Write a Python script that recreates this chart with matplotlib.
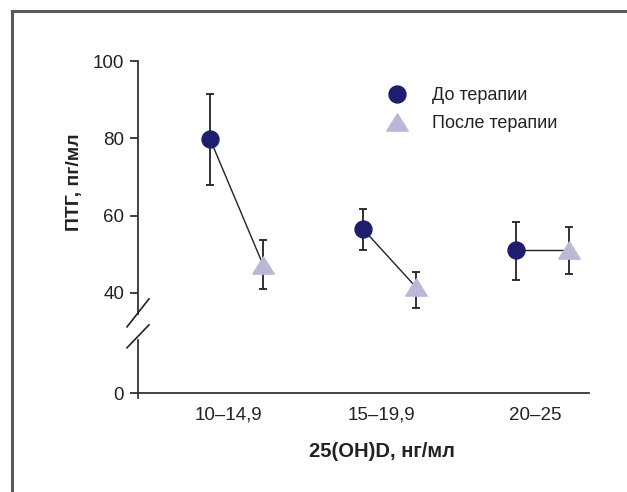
import matplotlib
matplotlib.use("Agg")
import matplotlib.pyplot as plt
from matplotlib.lines import Line2D
import numpy as np

categories = ["10–14,9", "15–19,9", "20–25"]
before_mean = [79.8, 56.5, 51.0]
before_upper = [91.4, 61.6, 58.4]
before_lower = [67.9, 51.1, 43.4]
after_mean = [47.3, 41.5, 51.0]
after_upper = [53.7, 45.5, 57.0]
after_lower = [41.1, 36.2, 44.9]
y_ticks = [0, 40, 60, 80, 100]
legend_labels = ["До терапии", "После терапии"]

NAVY = "#1f1d6e"
LAV = "#b9b8d6"
NARROW = ["Liberation Sans Narrow", "Liberation Sans", "DejaVu Sans"]
BOLD = ["Liberation Sans", "DejaVu Sans"]

# broken-axis scale: linear above BREAK, compressed below
BREAK = 27.0
K = 12.9 / 27.0

def fwd(v):
    v = np.asarray(v, dtype=float)
    return np.where(v >= BREAK, v, BREAK - (BREAK - v) * K)

def inv(u):
    u = np.asarray(u, dtype=float)
    return np.where(u >= BREAK, u, BREAK - (BREAK - u) / K)

fig = plt.figure(figsize=(6.27, 4.92), dpi=100)
# outer frame (top and left visible)
fig.add_artist(Line2D([12/627, 12/627], [0, 1 - 11/492], transform=fig.transFigure,
                      color="#5a5a5a", lw=2.2))
fig.add_artist(Line2D([12/627, 1], [1 - 11/492, 1 - 11/492], transform=fig.transFigure,
                      color="#5a5a5a", lw=2.2))

ax = fig.add_axes([138/627, 1 - 393/492, (589 - 138)/627, (393 - 61)/492])
ax.set_yscale("function", functions=(fwd, inv))
ax.set_ylim(0, 100)
ax.set_xlim(-0.644, 2.304)

x = np.arange(len(categories))
off = 0.173
xb = x - off
xa = x + off

bm = np.array(before_mean); am = np.array(after_mean)
b_err = [bm - np.array(before_lower), np.array(before_upper) - bm]
a_err = [am - np.array(after_lower), np.array(after_upper) - am]

for i in range(len(categories)):
    ax.plot([xb[i], xa[i]], [bm[i], am[i]], color="#222222", lw=1.0, zorder=2)

ax.errorbar(xb, bm, yerr=b_err, fmt="none", ecolor="#222222", elinewidth=1.3,
            capsize=3.2, capthick=1.3, zorder=3)
ax.errorbar(xa, am, yerr=a_err, fmt="none", ecolor="#222222", elinewidth=1.3,
            capsize=3.2, capthick=1.3, zorder=3)

tri = [(-1.0, -0.8), (1.0, -0.8), (0.0, 0.8), (-1.0, -0.8)]
ax.plot(xb, bm, "o", color=NAVY, markersize=12.2, zorder=4, mec=NAVY)
ax.plot(xa, am, marker=tri, ls="none", color=LAV, markersize=15.5, mec=LAV, zorder=4)

# spines
for s in ["top", "right", "left"]:
    ax.spines[s].set_visible(False)
ax.spines["bottom"].set_linewidth(1.3)
ax.spines["bottom"].set_color("#333333")

# left spine drawn in two parts with a break
gap_hi, gap_lo = 34.6, 27.9
ax.plot([-0.644, -0.644], [gap_hi, 100], color="#333333", lw=1.3, clip_on=False,
        zorder=1)
ax.plot([-0.644, -0.644], [-2.8, gap_lo], color="#333333", lw=1.3, clip_on=False,
        zorder=1)
# break marks
xl0, xl1 = -0.644 - 11/153, -0.644 + 11/153
def yv(px):
    return 100 - (px - 61) / 3.867
ax.plot([xl0, xl1], [yv(327), yv(299)], color="#222222", lw=1.2, clip_on=False)
ax.plot([xl0, xl1], [yv(353), yv(325)], color="#222222", lw=1.2, clip_on=False)

ax.set_yticks(y_ticks)
ax.set_yticklabels([str(t) for t in y_ticks], fontfamily=NARROW, fontsize=13.5,
                   color="#222222")
ax.tick_params(axis="y", length=6, width=1.3, color="#333333", pad=4)
ax.yaxis.set_minor_locator(matplotlib.ticker.NullLocator())

ax.set_xticks(x - 0.05)
ax.set_xticklabels(categories, fontfamily=NARROW, fontsize=13.5, color="#222222")
ax.tick_params(axis="x", length=0, pad=10)

ax.set_ylabel("ПТГ, пг/мл", fontfamily=BOLD, fontweight="bold", fontsize=14,
              color="#222222")
ax.yaxis.set_label_coords(-0.121, 0.635)
ax.set_xlabel("25(OH)D, нг/мл", fontfamily=BOLD, fontweight="bold", fontsize=14.5,
              color="#222222")
ax.xaxis.set_label_coords(0.54, -0.149)

h1 = Line2D([], [], marker="o", ls="none", color=NAVY, markersize=12.2)
h2 = Line2D([], [], marker=tri, ls="none", color=LAV, markersize=15.5)
leg = ax.legend([h1, h2], legend_labels, loc="upper left",
                bbox_to_anchor=(0.515, 0.97), frameon=False,
                prop={"family": NARROW, "size": 13}, handletextpad=1.3,
                labelspacing=0.6, handlelength=1.2)
for t in leg.get_texts():
    t.set_color("#222222")

fig.savefig("out.png", dpi=100)
